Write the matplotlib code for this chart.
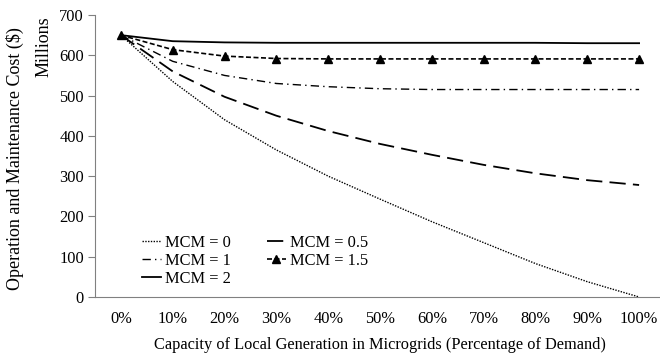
import matplotlib
matplotlib.use("Agg")
import matplotlib.pyplot as plt

plt.rcParams['font.family'] = ['Liberation Serif', 'DejaVu Serif']

labels = ["0%", "10%", "20%", "30%", "40%", "50%", "60%", "70%", "80%", "90%", "100%"]
mcm_0 = [650, 535, 440, 365, 300, 243, 187, 135, 83, 38, 0]
mcm_05 = [650, 560, 497, 450, 412, 380, 353, 328, 307, 290, 278]
mcm_1 = [650, 585, 550, 530, 522, 517, 515, 515, 515, 515, 515]
mcm_15 = [650, 614, 598, 592, 591, 591, 591, 591, 591, 591, 591]
mcm_2 = [650, 635, 632, 631, 631, 631, 631, 631, 631, 630, 630]

fs = 11.8
fig = plt.figure(figsize=(6.6, 3.54), dpi=100)
ax = fig.add_axes([95 / 660, 1 - 297 / 354, 570 / 660, 282 / 354])

x = range(len(labels))
l0, = ax.plot(x, mcm_0, color='black', lw=1.0, linestyle=(0, (1, 1)), label="MCM = 0")
l05, = ax.plot(x, mcm_05, color='black', lw=1.3, linestyle=(0, (9, 4)), label="MCM = 0.5")
l1, = ax.plot(x, mcm_1, color='black', lw=1.0, linestyle=(0, (6, 3, 1, 3)), label="MCM = 1")
l15, = ax.plot(x, mcm_15, color='black', lw=1.2, linestyle=(0, (3, 1.5)), marker='^', markersize=5.5,
               label="MCM = 1.5")
l2, = ax.plot(x, mcm_2, color='black', lw=1.3, label="MCM = 2")

ax.set_xlim(-0.5, len(labels) - 0.5)
ax.set_ylim(0, 700)
ax.set_yticks(range(0, 701, 100))
ax.set_xticks(list(x))
ax.set_xticklabels(labels)
ax.tick_params(axis='x', length=0, pad=10, labelsize=fs)
ax.tick_params(axis='y', length=5, color='#808080', labelsize=fs, pad=3)

for side in ['top', 'right']:
    ax.spines[side].set_visible(False)
for side in ['left', 'bottom']:
    ax.spines[side].set_color('#808080')

ax.set_xlabel("Capacity of Local Generation in Microgrids (Percentage of Demand)", fontsize=fs, labelpad=7)
fig.text(15 / 660, 1 - 159 / 354, "Operation and Maintenance Cost (\\$)", rotation=90,
         ha='center', va='center', fontsize=13)
fig.text(44 / 660, 1 - 47 / 354, "Millions", rotation=90, ha='center', va='center', fontsize=13)

# row-major order like the original legend
handles = [l0, l1, l2, l05, l15]
ax.legend(handles=handles, labels=[h.get_label() for h in handles],
          loc='lower left', bbox_to_anchor=(0.065, 0.0), ncol=2, frameon=False, fontsize=fs,
          handlelength=1.15, handletextpad=0.25, columnspacing=2.2, labelspacing=0.12,
          borderaxespad=0.2)

fig.savefig("out.png", dpi=100)
